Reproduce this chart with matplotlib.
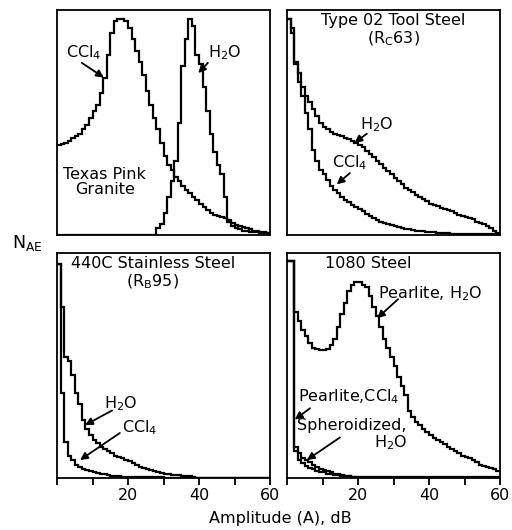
import numpy as np
import matplotlib.pyplot as plt

# amplitude bin edges, dB (1 dB bins)
edges = np.arange(0, 61)

# Texas Pink Granite
granite_ccl4 = [0.40, 0.405, 0.41, 0.42, 0.43, 0.44, 0.45, 0.47, 0.49, 0.52,
                0.55, 0.58, 0.63, 0.70, 0.80, 0.90, 0.95, 0.96, 0.96, 0.95,
                0.92, 0.87, 0.82, 0.77, 0.71, 0.64, 0.58, 0.52, 0.47, 0.41,
                0.35, 0.31, 0.29, 0.26, 0.24, 0.22, 0.20, 0.185, 0.17, 0.155,
                0.14, 0.125, 0.11, 0.10, 0.09, 0.085, 0.08, 0.075, 0.065, 0.055,
                0.045, 0.04, 0.035, 0.03, 0.025, 0.02, 0.018, 0.015, 0.012, 0.01]
granite_h2o = [0] * 28 + [0.03, 0.05, 0.10, 0.17, 0.24, 0.33, 0.50, 0.75, 0.87, 0.96,
                          0.93, 0.80, 0.76, 0.66, 0.55, 0.45, 0.37, 0.31, 0.27, 0.17,
                          0.06, 0.04, 0.03, 0.025, 0.02, 0.018, 0.015, 0.013, 0.012, 0.01,
                          0.01, 0.01]

# Type 02 tool steel
tool_h2o = [0.96, 0.90, 0.77, 0.72, 0.66, 0.62, 0.59, 0.56, 0.53, 0.50,
            0.48, 0.47, 0.46, 0.45, 0.445, 0.44, 0.43, 0.425, 0.42, 0.41,
            0.40, 0.39, 0.375, 0.36, 0.345, 0.33, 0.315, 0.30, 0.285, 0.27,
            0.255, 0.24, 0.225, 0.21, 0.20, 0.19, 0.18, 0.17, 0.16, 0.15,
            0.14, 0.135, 0.13, 0.12, 0.115, 0.11, 0.105, 0.10, 0.09, 0.085,
            0.08, 0.075, 0.07, 0.06, 0.055, 0.05, 0.04, 0.03, 0.02, 0.01]
tool_ccl4 = [0.96, 0.92, 0.76, 0.68, 0.62, 0.54, 0.47, 0.38, 0.33, 0.29,
             0.27, 0.245, 0.22, 0.20, 0.185, 0.17, 0.155, 0.145, 0.135, 0.125,
             0.115, 0.105, 0.095, 0.085, 0.075, 0.068, 0.06, 0.055, 0.05, 0.045,
             0.04, 0.036, 0.032, 0.028, 0.025, 0.022, 0.02, 0.018, 0.016, 0.014,
             0.013, 0.012, 0.011, 0.01, 0.01, 0.008] + [0.005] * 14

# 440C stainless steel
ss_h2o = [0.95, 0.76, 0.54, 0.52, 0.46, 0.38, 0.33, 0.26, 0.22, 0.19,
          0.17, 0.155, 0.14, 0.13, 0.12, 0.11, 0.10, 0.095, 0.09, 0.08,
          0.075, 0.065, 0.06, 0.05, 0.045, 0.04, 0.035, 0.03, 0.025, 0.022,
          0.02, 0.018, 0.015, 0.013, 0.012, 0.01, 0.01, 0.008, 0.006] + [0] * 21
ss_ccl4 = [0.95, 0.38, 0.16, 0.10, 0.08, 0.06, 0.05, 0.04, 0.035, 0.03,
           0.025, 0.022, 0.02, 0.016, 0.013, 0.01, 0.008, 0.007, 0.006, 0.005] + [0.004] * 10 + [0] * 30

# 1080 steel
pearl_h2o = [0.965, 0.965, 0.74, 0.70, 0.66, 0.63, 0.60, 0.58, 0.575, 0.57,
             0.57, 0.575, 0.59, 0.62, 0.67, 0.73, 0.78, 0.83, 0.86, 0.87,
             0.87, 0.86, 0.85, 0.81, 0.76, 0.72, 0.67, 0.62, 0.58, 0.54,
             0.50, 0.45, 0.41, 0.37, 0.30, 0.27, 0.25, 0.235, 0.22, 0.205,
             0.19, 0.18, 0.17, 0.16, 0.15, 0.14, 0.13, 0.12, 0.11, 0.10,
             0.095, 0.09, 0.08, 0.07, 0.06, 0.055, 0.05, 0.045, 0.04, 0.03]
pearl_ccl4 = [0.965, 0.965, 0.12, 0.08, 0.065, 0.055, 0.045, 0.04, 0.03, 0.028,
              0.025, 0.02, 0.018, 0.015, 0.013, 0.01, 0.008, 0.007, 0.006, 0.005] + [0] * 40
sphero_h2o = [0.965, 0.965, 0.14, 0.11, 0.09, 0.08, 0.07, 0.06, 0.05, 0.04,
              0.035, 0.03, 0.025, 0.02, 0.016, 0.013, 0.01, 0.008, 0.006, 0.005] + [0.003] * 40

plt.rcParams['font.family'] = 'DejaVu Sans'
plt.rcParams['mathtext.default'] = 'regular'
fs = 11.5
fig = plt.figure(figsize=(5.12, 5.30), dpi=100)

W, H = 213 / 512, 225 / 530
ax_tl = fig.add_axes([57 / 512, 1 - 235 / 530, W, H])
ax_tr = fig.add_axes([287 / 512, 1 - 235 / 530, W, H])
ax_bl = fig.add_axes([57 / 512, 1 - 478 / 530, W, H])
ax_br = fig.add_axes([287 / 512, 1 - 478 / 530, W, H])

for ax in [ax_tl, ax_tr, ax_bl, ax_br]:
    ax.set_xlim(0, 60)
    ax.set_ylim(0, 1)
    ax.set_yticks([])
    for s in ax.spines.values():
        s.set_linewidth(1.3)

for ax in [ax_tl, ax_tr]:
    ax.set_xticks([])

for ax in [ax_bl, ax_br]:
    ax.set_xticks(np.arange(0, 61, 10))
    ax.set_xticklabels(['', '', '20', '', '40', '', '60'], fontsize=fs)
    ax.tick_params(axis='x', direction='out', length=5, width=1.3, pad=2)

lw = 1.6
kw = dict(color='black', linewidth=lw, baseline=None)
ax_tl.stairs(granite_ccl4, edges, **kw)
ax_tl.stairs(granite_h2o, edges, **kw)
ax_tr.stairs(tool_h2o, edges, **kw)
ax_tr.stairs(tool_ccl4, edges, **kw)
ax_bl.stairs(ss_h2o, edges, **kw)
ax_bl.stairs(ss_ccl4, edges, **kw)
ax_br.stairs(pearl_h2o, edges, **kw)
ax_br.stairs(pearl_ccl4, edges, **kw)
ax_br.stairs(sphero_h2o, edges, **kw)

arrow = dict(arrowstyle='-|>', color='black', lw=1.3, mutation_scale=11,
             shrinkA=0, shrinkB=0)

def note(ax, txt, xy, tail, tip, **k):
    ax.text(xy[0], xy[1], txt, fontsize=fs, **k)
    ax.annotate('', xy=tip, xytext=tail, arrowprops=arrow)

# top left
note(ax_tl, 'CCl$_4$', (2.5, 0.81), (7.0, 0.765), (13.2, 0.70), ha='left', va='center')
note(ax_tl, 'H$_2$O', (42.5, 0.81), (42.5, 0.765), (39.8, 0.72), ha='left', va='center')
ax_tl.text(13.5, 0.235, 'Texas Pink\nGranite', fontsize=fs, ha='center', va='center',
           linespacing=1.0)

# top right
ax_tr.text(0.5, 0.985, 'Type 02 Tool Steel\n(R$_C$63)', transform=ax_tr.transAxes,
           fontsize=fs, ha='center', va='top', linespacing=1.1)
note(ax_tr, 'H$_2$O', (20.6, 0.49), (22.5, 0.45), (19.0, 0.41), ha='left', va='center')
note(ax_tr, 'CCl$_4$', (12.7, 0.32), (17.7, 0.275), (14.0, 0.225), ha='left', va='center')

# bottom left
ax_bl.text(0.45, 0.985, '440C Stainless Steel\n(R$_B$95)', transform=ax_bl.transAxes,
           fontsize=fs, ha='center', va='top', linespacing=1.1)
note(ax_bl, 'H$_2$O', (13.3, 0.33), (15.5, 0.30), (7.9, 0.235), ha='left', va='center')
note(ax_bl, 'CCl$_4$', (18.3, 0.225), (17.7, 0.20), (6.5, 0.08), ha='left', va='center')

# bottom right
ax_br.text(0.38, 0.985, '1080 Steel', transform=ax_br.transAxes,
           fontsize=fs, ha='center', va='top')
note(ax_br, 'Pearlite, H$_2$O', (25.6, 0.82), (31.3, 0.795), (25.4, 0.71),
     ha='left', va='center')
note(ax_br, 'Pearlite,CCl$_4$', (3.1, 0.36), (6.5, 0.31), (2.2, 0.26),
     ha='left', va='center')
note(ax_br, 'Spheroidized,\nH$_2$O', (33.8, 0.19), (14.9, 0.18), (5.6, 0.08),
     ha='right', va='center', multialignment='right', linespacing=1.0)

fig.text(27 / 512, 1 - 243 / 530, 'N$_{AE}$', fontsize=fs + 1, ha='center', va='center')
fig.text(280 / 512, 1 - 519 / 530, 'Amplitude (A), dB', fontsize=fs, ha='center', va='center')

fig.savefig('out.png', dpi=100)
